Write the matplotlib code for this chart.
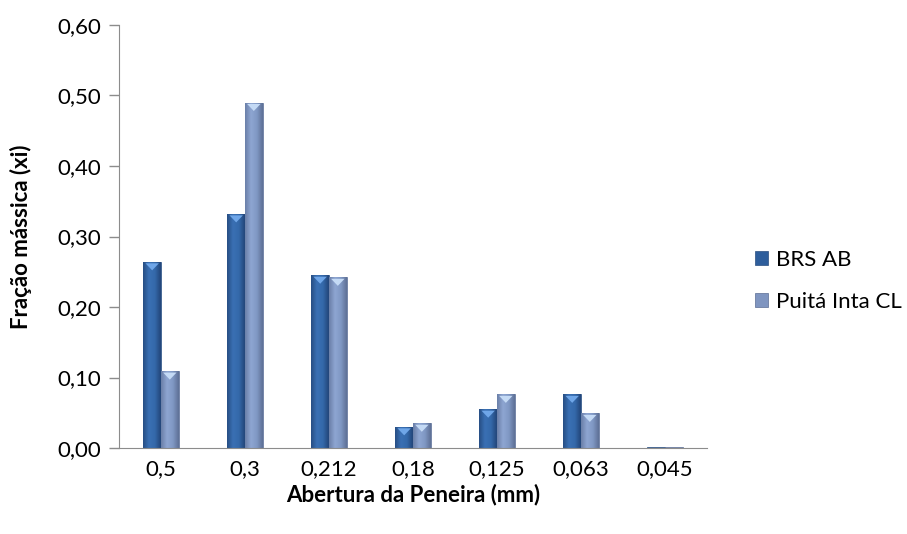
import matplotlib
matplotlib.use("Agg")
import matplotlib.pyplot as plt
import numpy as np
from matplotlib.colors import LinearSegmentedColormap

categories = ["0,5", "0,3", "0,212", "0,18", "0,125", "0,063", "0,045"]
brs_ab = [0.264, 0.332, 0.245, 0.030, 0.055, 0.076, 0.001]
puita = [0.109, 0.490, 0.242, 0.035, 0.076, 0.049, 0.001]
series_names = ["BRS AB", "Puitá Inta CL"]
yticks = [0.0, 0.1, 0.2, 0.3, 0.4, 0.5, 0.6]

plt.rcParams['font.family'] = ['Lato', 'DejaVu Sans']
FS = 16

fig = plt.figure(figsize=(9.07, 5.34), dpi=100)
ax = fig.add_axes([0.1312, 0.161, 0.6483, 0.7922])

x = np.arange(len(categories))
w = 0.21
c1 = "#2E5E9C"
c2 = "#7F95C0"
b1 = ax.bar(x - w/2, brs_ab, w, color=c1, edgecolor="#2A4F80", linewidth=0.5, label=series_names[0], zorder=2)
b2 = ax.bar(x + w/2, puita, w, color=c2, edgecolor="#5A6D94", linewidth=0.5, label=series_names[1], zorder=2)

cm1 = LinearSegmentedColormap.from_list("a", ["#274E84", "#3A70B4", "#3469AA", "#23467A"])
cm2 = LinearSegmentedColormap.from_list("b", ["#6A7FA8", "#8EA6D2", "#8098C4", "#5E7096"])
grad = np.linspace(0, 1, 64).reshape(1, -1)
for bars, cm, tri in ((b1, cm1, "#6FA6E8"), (b2, cm2, "#C4DAF5")):
    for p in bars:
        bx, by = p.get_x(), p.get_y()
        bw, bh = p.get_width(), p.get_height()
        if bh < 0.004:
            continue
        im = ax.imshow(grad, cmap=cm, aspect="auto", extent=[bx, bx + bw, by, by + bh],
                       zorder=2.5, interpolation="bicubic")
        im.set_clip_path(p)
        th = min(0.012, bh * 0.5)
        ax.fill([bx + bw*0.12, bx + bw*0.88, bx + bw/2], [by + bh - 0.002, by + bh - 0.002, by + bh - th],
                color=tri, zorder=3, linewidth=0)

ax.set_xlim(-0.5, len(categories) - 0.5)
ax.set_ylim(0, 0.6)
ax.set_yticks(yticks)
ax.set_yticklabels([f"{v:.2f}".replace(".", ",") for v in yticks])
ax.set_xticks(x)
ax.set_xticklabels(categories)
ax.tick_params(axis="x", length=0, labelsize=FS, pad=8, colors="black")
ax.tick_params(axis="y", length=7, width=1, color="#8C8C8C", labelsize=FS, pad=6)

for s in ["top", "right"]:
    ax.spines[s].set_visible(False)
ax.spines["left"].set_color("#8C8C8C")
ax.spines["bottom"].set_color("#8C8C8C")

ax.set_xlabel("Abertura da Peneira (mm)", fontsize=FS, fontweight="bold", labelpad=3)
ax.set_ylabel("Fração mássica (xi)", fontsize=FS, fontweight="bold", labelpad=18)

leg = fig.legend(handles=[b1, b2], labels=series_names, loc="center left",
                 bbox_to_anchor=(0.81, 0.474), frameon=False, fontsize=FS,
                 handlelength=0.6, handleheight=0.6, labelspacing=1.0, handletextpad=0.35)

fig.savefig("out.png", dpi=100)
